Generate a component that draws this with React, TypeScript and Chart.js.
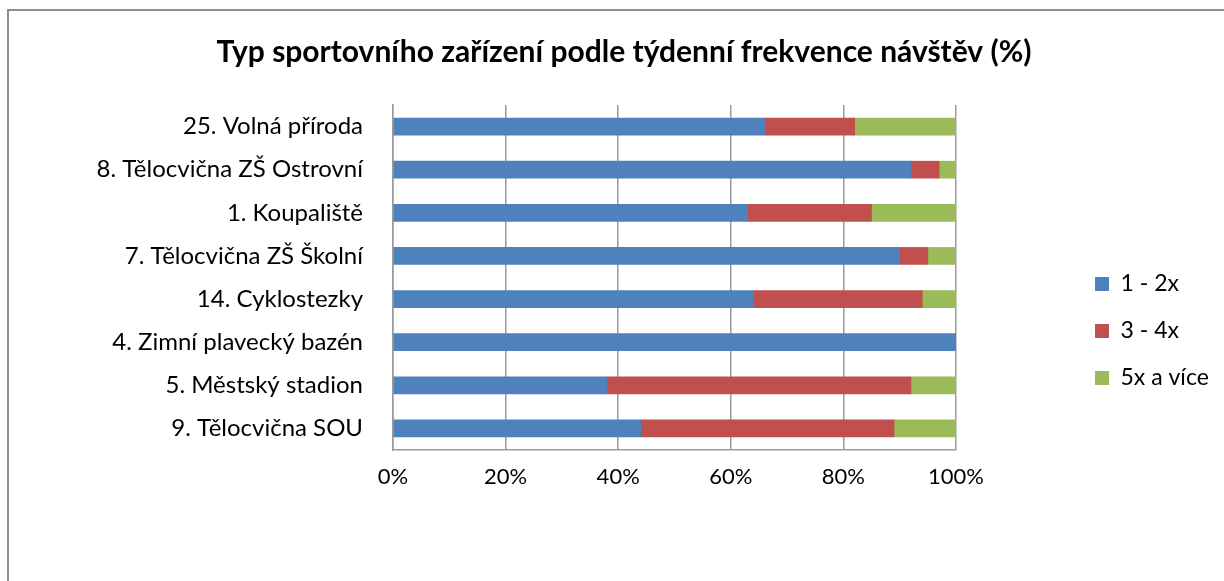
import React, { useEffect, useRef } from "react";
import { Chart, registerables } from "chart.js";

Chart.register(...registerables);

const categories: string[] = [
  "25. Volná příroda",
  "8. Tělocvična ZŠ Ostrovní",
  "1. Koupaliště",
  "7. Tělocvična ZŠ Školní",
  "14. Cyklostezky",
  "4. Zimní plavecký bazén",
  "5. Městský stadion",
  "9. Tělocvična SOU",
];

const seriesNames: string[] = ["1 - 2x", "3 - 4x", "5x a více"];
const values12: number[] = [66, 92, 63, 90, 64, 100, 38, 44];
const values34: number[] = [16, 5, 22, 5, 30, 0, 54, 45];
const values5plus: number[] = [18, 3, 15, 5, 6, 0, 8, 11];
const seriesColors: string[] = ["#4F81BD", "#C0504D", "#9BBB59"];
const xTicks: number[] = [0, 20, 40, 60, 80, 100];

const titleText = "Typ sportovního zařízení podle týdenní frekvence návštěv (%)";
const FONT = "Lato, 'Open Sans', sans-serif";

export default function App() {
  const ref = useRef<HTMLCanvasElement | null>(null);

  useEffect(() => {
    if (!ref.current) return;
    const legendWidthPlugin = {
      id: "legendWidth",
      afterInit(chart: any) {
        const lg = chart.legend;
        if (lg && !lg.__patched) {
          const orig = lg.fit.bind(lg);
          lg.fit = function () {
            orig();
            this.width = 153;
          };
          lg.__patched = true;
        }
      },
    };
    const chart = new Chart(ref.current, {
      type: "bar",
      data: {
        labels: categories,
        datasets: [values12, values34, values5plus].map((d, i) => ({
          label: seriesNames[i],
          data: d,
          backgroundColor: seriesColors[i],
          borderWidth: 0,
          barThickness: 17,
        })),
      },
      options: {
        indexAxis: "y",
        animation: false,
        responsive: false,
        maintainAspectRatio: false,
        layout: { padding: { left: 24, right: 0, top: 0, bottom: 24 } },
        plugins: {
          title: {
            display: true,
            text: titleText,
            color: "#000",
            font: { family: FONT, size: 30, weight: "bold" },
            padding: { top: 34, bottom: 35 },
          },
          legend: {
            display: true,
            position: "right",
            align: "center",
            title: {
              display: true,
              text: " ",
              font: { family: FONT, size: 10 },
              padding: { top: 93, bottom: 0 },
            },
            labels: {
              boxWidth: 14,
              boxHeight: 14,
              padding: 24,
              color: "#000",
              font: { family: FONT, size: 23 },
            },
          },
          tooltip: { enabled: false },
        },
        scales: {
          x: {
            stacked: true,
            min: 0,
            max: 100,
            afterBuildTicks: (s: any) => {
              s.ticks = xTicks.map((v) => ({ value: v }));
            },
            afterFit: (s: any) => {
              s.height = 107;
            },
            ticks: {
              color: "#000",
              padding: 14,
              font: { family: FONT, size: 22 },
              callback: (v: any) => v + "%",
            },
            grid: { color: "#9a9a9a", lineWidth: 1.5, drawTicks: false },
            border: { color: "#9a9a9a", width: 1.5 },
          },
          y: {
            stacked: true,
            afterFit: (s: any) => {
              s.width = 369;
            },
            ticks: {
              color: "#000",
              padding: 30,
              font: { family: FONT, size: 24 },
            },
            grid: { display: false, drawTicks: false },
            border: { color: "#9a9a9a", width: 1.5 },
          },
          yr: {
            type: "category",
            axis: "y",
            position: "right",
            display: true,
            afterFit: (s: any) => {
              s.width = 115;
            },
            ticks: { display: false },
            grid: { display: false, drawTicks: false },
            border: { display: false },
          },
        },
      } as any,
      plugins: [legendWidthPlugin],
    });
    return () => chart.destroy();
  }, []);

  return (
    <div style={{ position: "fixed", left: 0, top: 0, width: 1224, height: 581, overflow: "hidden", background: "#fff" }}>
      <div
        style={{
          position: "absolute",
          left: 7,
          top: 9,
          width: 1300,
          height: 700,
          borderTop: "2px solid #8e8e8e",
          borderLeft: "2px solid #8e8e8e",
        }}
      />
      <canvas ref={ref} width={1224} height={581} style={{ position: "absolute", left: 0, top: 0 }} />
    </div>
  );
}
